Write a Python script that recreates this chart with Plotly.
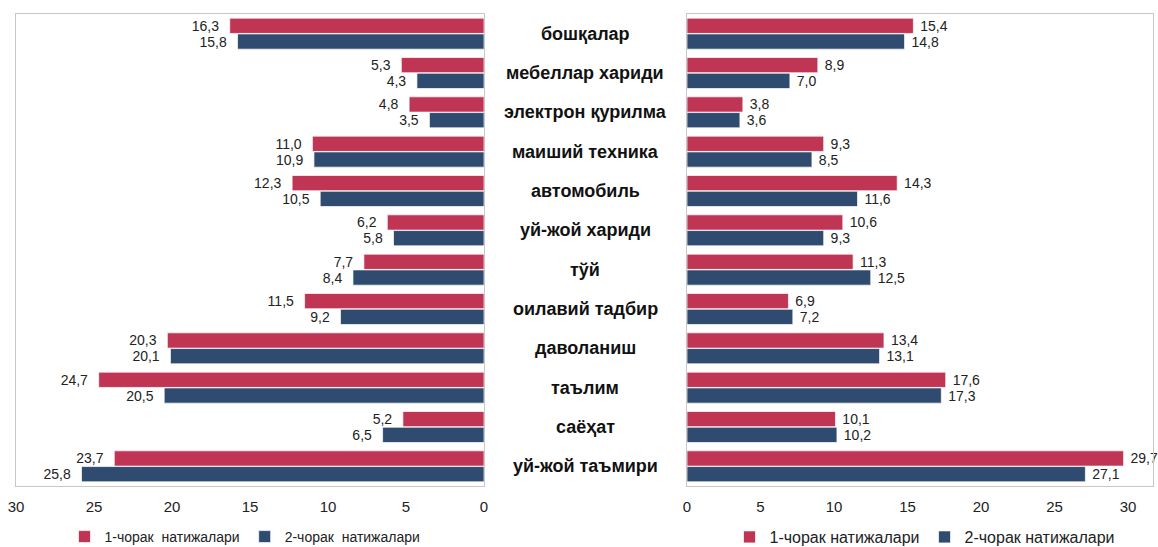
import plotly.graph_objects as go

# категориялар (юқоридан пастга)
categories = ['бошқалар', 'мебеллар хариди', 'электрон қурилма', 'маиший техника',
              'автомобиль', 'уй-жой хариди', 'тўй', 'оилавий тадбир',
              'даволаниш', 'таълим', 'саёҳат', 'уй-жой таъмири']

left_q1 = [16.3, 5.3, 4.8, 11.0, 12.3, 6.2, 7.7, 11.5, 20.3, 24.7, 5.2, 23.7]
left_q2 = [15.8, 4.3, 3.5, 10.9, 10.5, 5.8, 8.4, 9.2, 20.1, 20.5, 6.5, 25.8]
right_q1 = [15.4, 8.9, 3.8, 9.3, 14.3, 10.6, 11.3, 6.9, 13.4, 17.6, 10.1, 29.7]
right_q2 = [14.8, 7.0, 3.6, 8.5, 11.6, 9.3, 12.5, 7.2, 13.1, 17.3, 10.2, 27.1]

series_names = ['1-чорак  натижалари', '2-чорак  натижалари']
series_names_right = ['1-чорак натижалари', '2-чорак натижалари']
tick_vals = [0, 5, 10, 15, 20, 25, 30]

RED = '#BF3553'
BLUE = '#2F4B70'
W, H = 1158, 547
NB = '\u00a0'


def fmt(values, pre='', post=''):
    return [pre + f"{v:.1f}".replace('.', ',') + post for v in values]


fig = go.Figure()

# y axis is reversed, so the first trace of each pair lands on top
for vals, name, color, xa, ya, leg, labels in [
    (left_q1, series_names[0], RED, 'x', 'y', 'legend', fmt(left_q1, post=NB * 2)),
    (left_q2, series_names[1], BLUE, 'x', 'y', 'legend', fmt(left_q2, post=NB * 2)),
    (right_q1, series_names_right[0], RED, 'x2', 'y2', 'legend2', fmt(right_q1, pre=NB)),
    (right_q2, series_names_right[1], BLUE, 'x2', 'y2', 'legend2', fmt(right_q2, pre=NB)),
]:
    fig.add_trace(go.Bar(
        y=categories, x=vals, orientation='h', name=name,
        marker=dict(color=color, line=dict(color='rgba(255,255,255,0.7)', width=1)),
        text=labels, textposition='outside', cliponaxis=False, constraintext='none',
        textfont=dict(size=14, color='#222222'),
        xaxis=xa, yaxis=ya, legend=leg,
        hoverinfo='skip'
    ))

frame = dict(showline=True, mirror=True, linecolor='#C8C8C8', linewidth=1,
             showgrid=False, zeroline=False)
ydom = [1 - 486 / H, 1 - 14 / H]

fig.update_layout(
    width=W, height=H,
    margin=dict(l=0, r=0, t=0, b=0, autoexpand=False),
    paper_bgcolor='white', plot_bgcolor='white',
    font=dict(family='Liberation Sans, Arial, sans-serif', color='#222222'),
    barmode='group', bargap=0.2, bargroupgap=0.03,
    showlegend=True,
    xaxis=dict(domain=[16 / W, 484 / W], range=[30, 0], tickvals=tick_vals,
               ticks='', tickfont=dict(size=15), ticklabelstandoff=7,
               anchor='y', **frame),
    yaxis=dict(domain=ydom, autorange='reversed', showticklabels=False,
               ticks='', anchor='x', **frame),
    xaxis2=dict(domain=[687 / W, 1153 / W], range=[0, 31.7], tickvals=tick_vals,
                ticks='', tickfont=dict(size=15), ticklabelstandoff=7,
                anchor='y2', **frame),
    yaxis2=dict(domain=ydom, autorange='reversed', showticklabels=False,
                ticks='', anchor='x2', **frame),
    legend=dict(orientation='h', x=245 / W, xanchor='center', y=1 - 537 / H,
                yanchor='middle', font=dict(size=14), itemwidth=30,
                bgcolor='rgba(0,0,0,0)'),
    legend2=dict(orientation='h', x=925 / W, xanchor='center', y=1 - 537 / H,
                 yanchor='middle', font=dict(size=16), itemwidth=30,
                 bgcolor='rgba(0,0,0,0)'),
)

for cat in categories:
    fig.add_annotation(x=585 / W, xref='paper', y=cat, yref='y', text=f"<b>{cat}</b>",
                       showarrow=False, xanchor='center', yanchor='middle',
                       font=dict(size=18, color='#111111'))

fig.write_html("out.html", config={'displayModeBar': False},
               post_script="document.body.style.margin='0';")
